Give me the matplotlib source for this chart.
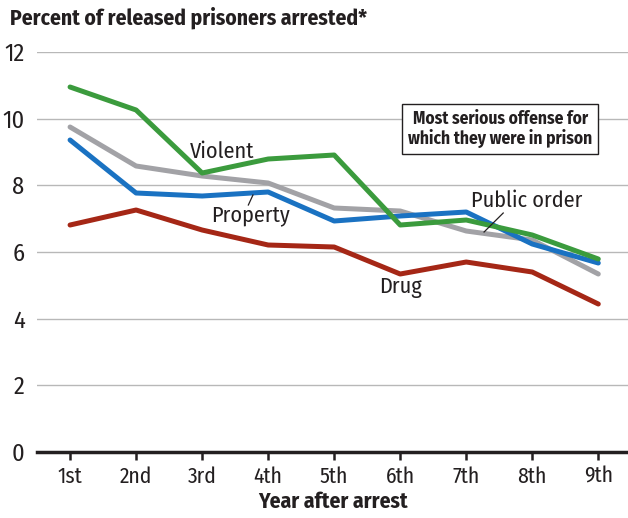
import matplotlib
matplotlib.use("Agg")
import matplotlib.pyplot as plt

plt.rcParams['font.family'] = ['Fira Sans Condensed', 'Roboto Condensed', 'DejaVu Sans']

years = ["1st", "2nd", "3rd", "4th", "5th", "6th", "7th", "8th", "9th"]
violent = [10.95, 10.26, 8.37, 8.79, 8.91, 6.81, 6.96, 6.51, 5.79]
public_order = [9.75, 8.58, 8.28, 8.07, 7.32, 7.23, 6.63, 6.36, 5.34]
property_ = [9.36, 7.77, 7.68, 7.80, 6.93, 7.08, 7.20, 6.24, 5.67]
drug = [6.81, 7.26, 6.66, 6.21, 6.15, 5.34, 5.70, 5.40, 4.44]

x = list(range(1, len(years) + 1))
ink = '#231f20'

fig = plt.figure(figsize=(6.28, 5.18), dpi=100)
ax = fig.add_axes([0.059, 0.1274, 0.941, 0.7722])

ax.plot(x, drug, color='#a52716', lw=3.6, solid_capstyle='round', zorder=3)
ax.plot(x, public_order, color='#a2a2a6', lw=3.6, solid_capstyle='round', zorder=4)
ax.plot(x, property_, color='#1a72c2', lw=3.6, solid_capstyle='round', zorder=5)
ax.plot(x, violent, color='#3b9b3d', lw=3.6, solid_capstyle='round', zorder=6)

ax.set_xlim(0.5, 9.45)
ax.set_ylim(0, 12)
ax.set_yticks([0, 2, 4, 6, 8, 10, 12])
ax.set_xticks(x)
ax.set_xticklabels(years)
ax.grid(axis='y', color='#b8b8b8', lw=1.0)
ax.set_axisbelow(True)
for s in ['top', 'right', 'left']:
    ax.spines[s].set_visible(False)
ax.spines['bottom'].set_color(ink)
ax.spines['bottom'].set_linewidth(2.5)
ax.tick_params(axis='x', direction='out', length=6, width=1.8, color=ink,
               labelsize=15.5, pad=4, labelcolor=ink)
ax.tick_params(axis='y', length=0, labelsize=17.5, pad=9, labelcolor=ink)

ax.set_xlabel("Year after arrest", fontsize=15.5, fontweight='bold', color=ink, labelpad=3)
fig.text(0.016, 0.965, "Percent of released prisoners arrested*", fontsize=15.5,
         fontweight='bold', color=ink, va='center', ha='left')

# series labels
ax.text(3.30, 9.0, "Violent", fontsize=16, color=ink, ha='center', va='center')
ax.text(3.73, 7.11, "Property", fontsize=16, color=ink, ha='center', va='center', zorder=7)
ax.plot([3.77, 3.70], [7.71, 7.41], color=ink, lw=0.9, zorder=7)
ax.text(7.92, 7.53, "Public order", fontsize=16, color=ink, ha='center', va='center', zorder=7)
ax.plot([7.56, 7.27], [7.17, 6.60], color=ink, lw=0.9, zorder=7)
ax.text(6.0, 4.95, "Drug", fontsize=16, color=ink, ha='center', va='center', zorder=7)

ax.text(7.515, 9.69, "Most serious offense for\nwhich they were in prison", fontsize=12.5,
        fontweight='bold', color=ink, ha='center', va='center', linespacing=1.05,
        bbox=dict(boxstyle='square,pad=0.35', fc='white', ec=ink, lw=1.0), zorder=8)

fig.savefig("out.png", dpi=100)
